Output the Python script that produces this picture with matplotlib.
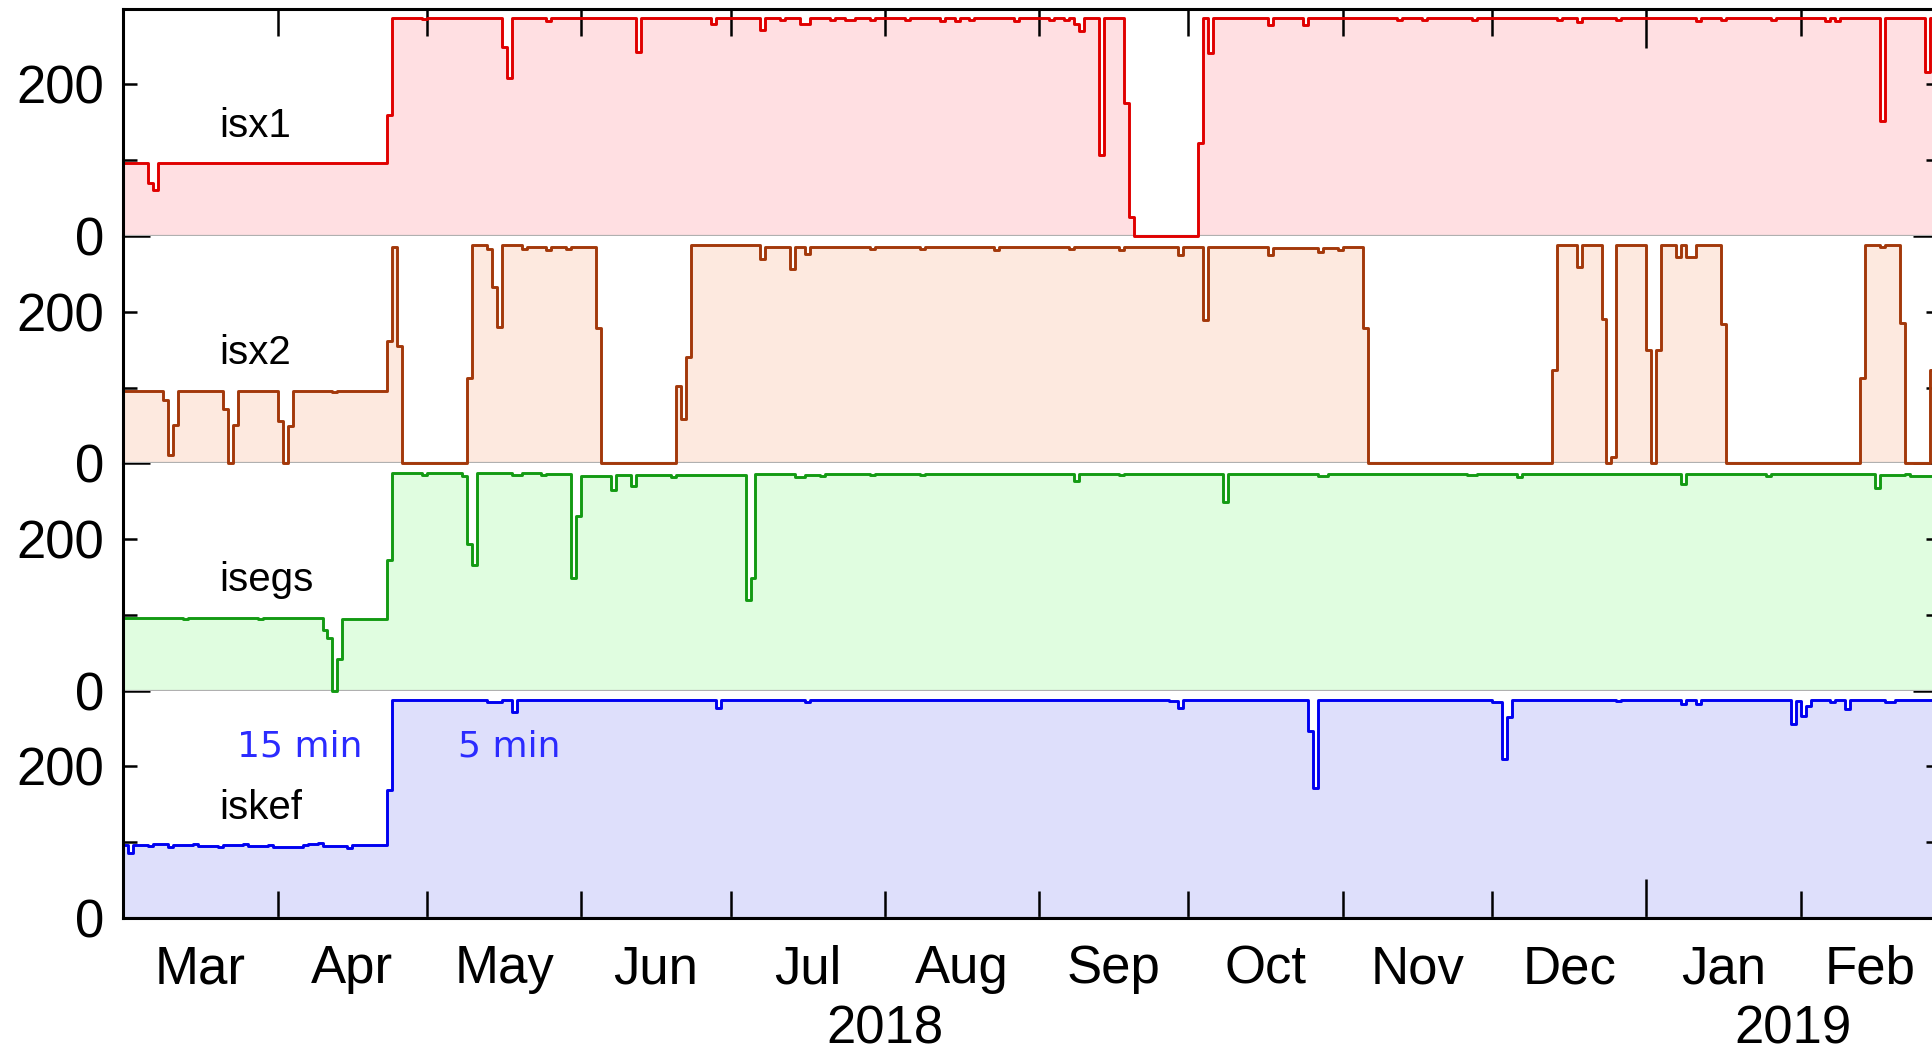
import numpy as np
import matplotlib
matplotlib.use('Agg')
import matplotlib.pyplot as plt
import matplotlib.dates as mdates

plt.rcParams['font.family'] = ['Liberation Sans', 'DejaVu Sans']

# --- data: samples per day as (day since START, value) steps ---
START = np.datetime64('2018-03-01')
END = np.datetime64('2019-03-01')
YEAR_BREAK = np.datetime64('2019-01-01')

STATIONS = ['isx1', 'isx2', 'isegs', 'iskef']
MONTHS = ['Mar', 'Apr', 'May', 'Jun', 'Jul', 'Aug', 'Sep', 'Oct', 'Nov', 'Dec', 'Jan', 'Feb']
YEARS = ['2018', '2019']
NOTES = ['15 min', '5 min']

isx1_day = [0, 5, 6, 7, 53, 54, 60, 61, 76, 77, 78, 85, 86, 103, 104, 118, 119,
            128, 129, 132, 133, 136, 138, 142, 143, 145, 147, 150, 151, 157, 158,
            164, 165, 167, 168, 170, 171, 179, 180, 186, 187, 189, 190, 191, 192,
            193, 196, 197, 201, 202, 203, 216, 217, 218, 219, 230, 231, 237, 238,
            256, 257, 261, 262, 271, 272, 288, 289, 292, 293, 300, 301, 316, 317,
            321, 322, 331, 332, 342, 343, 344, 345, 353, 354, 362, 363]
isx1_val = [96, 70, 60, 96, 160, 288, 286, 288, 249, 208, 288, 284, 288, 243, 288, 280, 288,
            272, 288, 285, 288, 280, 288, 285, 288, 285, 288, 285, 288, 285, 288,
            284, 288, 284, 288, 285, 288, 284, 288, 285, 288, 285, 288, 280, 270,
            288, 107, 288, 175, 25, 0, 123, 288, 241, 288, 278, 288, 278, 288,
            285, 288, 285, 288, 285, 288, 285, 288, 283, 288, 285, 288, 284, 288,
            285, 288, 285, 288, 284, 288, 284, 288, 152, 288, 216, 288]

isx2_day = [0, 2, 3, 8, 9, 10, 11, 15, 16, 20, 21, 22, 23, 31, 32, 33, 34, 42, 43,
            53, 54, 55, 56, 69, 70, 73, 74, 75, 76, 80, 81, 85, 86, 89, 90, 95, 96,
            111, 112, 113, 114, 128, 129, 134, 135, 137, 138, 150, 151, 160, 161,
            175, 176, 190, 191, 200, 201, 212, 213, 217, 218, 230, 231, 240, 241,
            244, 245, 249, 250, 287, 288, 292, 293, 297, 298, 299, 300, 306, 307,
            308, 309, 312, 313, 314, 316, 321, 322, 349, 350, 353, 354, 357, 358, 363]
isx2_val = [96, 95, 96, 83, 11, 50, 96, 95, 96, 72, 0, 51, 96, 56, 0, 49, 96, 94, 96,
            162, 286, 155, 0, 112, 288, 283, 232, 180, 288, 283, 286, 282, 286, 283, 286, 179, 0,
            102, 59, 140, 288, 269, 286, 256, 286, 276, 286, 283, 286, 283, 286,
            282, 286, 283, 286, 282, 285, 275, 286, 189, 285, 275, 284, 279, 284,
            281, 285, 179, 0, 123, 288, 259, 288, 191, 0, 8, 288, 150, 0,
            150, 288, 272, 288, 272, 288, 184, 0, 113, 288, 285, 288, 185, 0, 123]

isegs_day = [0, 12, 13, 27, 28, 40, 41, 42, 43, 44, 53, 54, 60, 61, 68, 69, 70, 71,
             78, 80, 84, 85, 90, 91, 92, 98, 99, 102, 103, 110, 111, 125, 126, 127,
             135, 137, 140, 141, 150, 151, 160, 161, 191, 192, 200, 201, 221, 222,
             240, 242, 270, 272, 280, 281, 313, 314, 330, 331, 352, 353, 358, 359]
isegs_val = [96, 95, 96, 95, 96, 80, 70, 0, 42, 94, 172, 287, 285, 287, 283, 193, 166, 287,
             284, 287, 284, 286, 148, 231, 283, 265, 284, 270, 284, 282, 285, 119, 149, 286,
             282, 285, 283, 286, 284, 286, 284, 286, 276, 286, 284, 286, 249, 286,
             283, 286, 284, 286, 282, 286, 273, 286, 283, 286, 268, 284, 286, 283]

iskef_day = [0, 1, 2, 5, 6, 9, 10, 14, 15, 19, 20, 24, 25, 29, 30, 36, 37, 39, 40, 45, 46,
             53, 54, 73, 76, 78, 79, 119, 120, 137, 138, 210, 212, 213, 238, 239, 240,
             260, 261, 275, 277, 278, 279, 300, 301, 313, 314, 316, 317, 335, 336, 337,
             338, 339, 343, 344, 346, 347, 354, 356]
iskef_val = [96, 86, 96, 95, 97, 94, 96, 97, 95, 94, 96, 97, 95, 96, 94, 96, 97, 99, 95, 93, 96,
             169, 288, 285, 288, 272, 288, 277, 288, 285, 288, 286, 277, 288, 247, 171, 288,
             287, 288, 285, 210, 265, 288, 286, 288, 283, 288, 283, 288, 256, 286, 267,
             280, 288, 285, 288, 276, 288, 285, 288]

LINE_COLORS = ['#e00000', '#a3380a', '#139a13', '#0000f0']
FILL_COLORS = ['#ffdfe2', '#fde9df', '#e0fde0', '#dedffb']
NOTE_COLOR = '#2b2bff'

# --- layout (figure fractions, the right frame sits just past the picture edge) ---
LEFT, WIDTH = 0.0639, 0.9402
BOTTOM, PANEL_H = 0.1274, 0.2161


def step_series(days, vals):
    dates = START + np.array(days) * np.timedelta64(1, 'D')
    x = mdates.date2num(np.append(dates, END))
    y = np.append(vals, vals[-1])
    return x, y


def main():
    series = [(isx1_day, isx1_val), (isx2_day, isx2_val),
              (isegs_day, isegs_val), (iskef_day, iskef_val)]

    month_starts = np.arange('2018-03', '2019-04', dtype='datetime64[M]').astype('datetime64[D]')
    month_num = mdates.date2num(month_starts)
    month_mid = (month_num[:-1] + month_num[1:]) / 2
    bounds = month_num[1:-1]
    x0, x1 = mdates.date2num(START), mdates.date2num(END)
    xyear = mdates.date2num(YEAR_BREAK)

    fig = plt.figure(figsize=(19.32, 10.52), dpi=100)
    axes = []
    for i, (name, (days, vals)) in enumerate(zip(STATIONS, series)):
        ax = fig.add_axes([LEFT, BOTTOM + (3 - i) * PANEL_H, WIDTH, PANEL_H])
        ax.patch.set_visible(False)
        x, y = step_series(days, vals)
        ax.fill_between(x, y, 0, step='post', color=FILL_COLORS[i], lw=0, zorder=1)
        ax.axhline(0, color='#b0b0b0', lw=1.6, zorder=2)
        ax.step(x, y, where='post', color=LINE_COLORS[i], lw=2.1, zorder=3, clip_on=False)

        ax.set_xlim(x0, x1)
        ax.set_ylim(0, 300)

        for sp in ax.spines.values():
            sp.set_linewidth(2.2)
            sp.set_zorder(5)
        ax.spines['top'].set_visible(i == 0)
        ax.spines['bottom'].set_visible(i == 3)

        # y ticks: long one at 0, short ones at 100 / 200
        ax.set_yticks([0], ['0'])
        ax.set_yticks([100, 200], ['', '200'], minor=True)
        ax.tick_params(axis='y', which='both', direction='in', left=True, right=True,
                       labelleft=True, labelright=False, labelsize=38, pad=14, width=1.8)
        ax.tick_params(axis='y', which='major', length=19.5)
        ax.tick_params(axis='y', which='minor', length=10)

        # x ticks at month boundaries, labels centred in the month
        ax.set_xticks(bounds, [''] * len(bounds))
        ax.set_xticks(month_mid, MONTHS if i == 3 else [''] * len(MONTHS), minor=True)
        ax.tick_params(axis='x', which='both', direction='in', bottom=(i == 3), top=(i == 0),
                       labelbottom=(i == 3), labeltop=False, labelsize=38, width=1.8)
        ax.tick_params(axis='x', which='major', length=19.5)
        ax.tick_params(axis='x', which='minor', length=0, pad=19)
        for loc, tick in zip(bounds, ax.xaxis.get_major_ticks()):
            if loc == xyear:
                tick.tick1line.set_markersize(28)
                tick.tick2line.set_markersize(28)

        ax.text(0.053, 0.437, name, transform=ax.transAxes, fontsize=29,
                va='baseline', ha='left', zorder=6)
        axes.append(ax)

    ax4 = axes[3]
    ax4.text(0.0623, 0.71, NOTES[0], transform=ax4.transAxes, fontsize=26,
             family='DejaVu Sans', color=NOTE_COLOR, va='baseline', zorder=6)
    ax4.text(0.184, 0.71, NOTES[1], transform=ax4.transAxes, fontsize=26,
             family='DejaVu Sans', color=NOTE_COLOR, va='baseline', zorder=6)

    year_mid = [(x0 + xyear) / 2, (xyear + x1) / 2]
    for label, xm in zip(YEARS, year_mid):
        ax4.annotate(label, xy=(xm, 0), xycoords=ax4.get_xaxis_transform(),
                     xytext=(0, -62), textcoords='offset points',
                     ha='center', va='top', fontsize=38)

    fig.savefig('out.png', dpi=100)


if __name__ == '__main__':
    main()
